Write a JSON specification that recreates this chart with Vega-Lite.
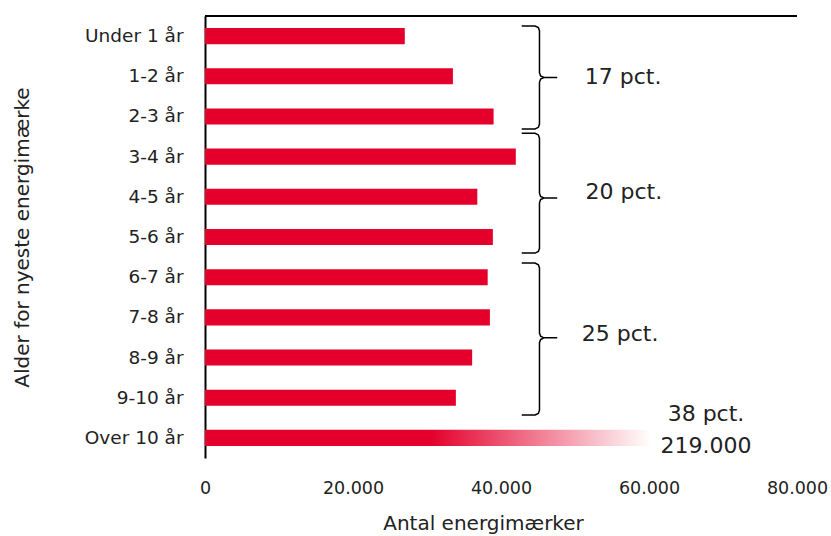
{
  "$schema": "https://vega.github.io/schema/vega-lite/v6.json",
  "width": 592,
  "height": 442,
  "autosize": {"type": "none"},
  "padding": {"left": 205, "top": 16, "right": 34, "bottom": 78},
  "background": "white",
  "config": {
    "view": {"stroke": null},
    "font": "DejaVu Sans",
    "text": {"font": "DejaVu Sans"}
  },
  "datasets": {
    "counts": [
      {"age": "Under 1 år", "count": 27000},
      {"age": "1-2 år", "count": 33500},
      {"age": "2-3 år", "count": 39000},
      {"age": "3-4 år", "count": 42000},
      {"age": "4-5 år", "count": 36800},
      {"age": "5-6 år", "count": 38900},
      {"age": "6-7 år", "count": 38200},
      {"age": "7-8 år", "count": 38500},
      {"age": "8-9 år", "count": 36100},
      {"age": "9-10 år", "count": 33900},
      {"age": "Over 10 år", "count": 219000}
    ],
    "frame": [{"x": 0, "x2": 80000, "pos": 0}],
    "braces": [
      {"g": 1, "i": 1, "x": 42800, "pos": 0.25},
      {"g": 1, "i": 2, "x": 44600, "pos": 0.25},
      {"g": 1, "i": 3, "x": 45050, "pos": 0.29},
      {"g": 1, "i": 4, "x": 45200, "pos": 0.37},
      {"g": 1, "i": 5, "x": 45200, "pos": 1.41},
      {"g": 1, "i": 6, "x": 45350, "pos": 1.49},
      {"g": 1, "i": 7, "x": 45800, "pos": 1.53},
      {"g": 1, "i": 8, "x": 47600, "pos": 1.53},
      {"g": 1, "i": 9, "x": 45800, "pos": 1.53},
      {"g": 1, "i": 10, "x": 45350, "pos": 1.57},
      {"g": 1, "i": 11, "x": 45200, "pos": 1.65},
      {"g": 1, "i": 12, "x": 45200, "pos": 2.69},
      {"g": 1, "i": 13, "x": 45050, "pos": 2.77},
      {"g": 1, "i": 14, "x": 44600, "pos": 2.81},
      {"g": 1, "i": 15, "x": 42800, "pos": 2.81},
      {"g": 2, "i": 1, "x": 42800, "pos": 2.92},
      {"g": 2, "i": 2, "x": 44600, "pos": 2.92},
      {"g": 2, "i": 3, "x": 45050, "pos": 2.96},
      {"g": 2, "i": 4, "x": 45200, "pos": 3.04},
      {"g": 2, "i": 5, "x": 45200, "pos": 4.41},
      {"g": 2, "i": 6, "x": 45350, "pos": 4.49},
      {"g": 2, "i": 7, "x": 45800, "pos": 4.53},
      {"g": 2, "i": 8, "x": 47600, "pos": 4.53},
      {"g": 2, "i": 9, "x": 45800, "pos": 4.53},
      {"g": 2, "i": 10, "x": 45350, "pos": 4.57},
      {"g": 2, "i": 11, "x": 45200, "pos": 4.65},
      {"g": 2, "i": 12, "x": 45200, "pos": 5.78},
      {"g": 2, "i": 13, "x": 45050, "pos": 5.86},
      {"g": 2, "i": 14, "x": 44600, "pos": 5.9},
      {"g": 2, "i": 15, "x": 42800, "pos": 5.9},
      {"g": 3, "i": 1, "x": 42800, "pos": 6.15},
      {"g": 3, "i": 2, "x": 44600, "pos": 6.15},
      {"g": 3, "i": 3, "x": 45050, "pos": 6.19},
      {"g": 3, "i": 4, "x": 45200, "pos": 6.27},
      {"g": 3, "i": 5, "x": 45200, "pos": 7.89},
      {"g": 3, "i": 6, "x": 45350, "pos": 7.97},
      {"g": 3, "i": 7, "x": 45800, "pos": 8.01},
      {"g": 3, "i": 8, "x": 47600, "pos": 8.01},
      {"g": 3, "i": 9, "x": 45800, "pos": 8.01},
      {"g": 3, "i": 10, "x": 45350, "pos": 8.05},
      {"g": 3, "i": 11, "x": 45200, "pos": 8.13},
      {"g": 3, "i": 12, "x": 45200, "pos": 9.81},
      {"g": 3, "i": 13, "x": 45050, "pos": 9.89},
      {"g": 3, "i": 14, "x": 44600, "pos": 9.93},
      {"g": 3, "i": 15, "x": 42800, "pos": 9.93}
    ],
    "notes": [
      {"text": "17 pct.", "x": 56500, "pos": 1.52},
      {"text": "20 pct.", "x": 56600, "pos": 4.38},
      {"text": "25 pct.", "x": 56100, "pos": 7.92},
      {"text": "38 pct.", "x": 67700, "pos": 9.91},
      {"text": "219.000", "x": 67700, "pos": 10.7}
    ]
  },
  "layer": [
    {
      "data": {"name": "counts"},
      "transform": [{"filter": "datum.age !== 'Over 10 år'"}],
      "mark": {"type": "bar", "color": "#E4002B"},
      "encoding": {
        "y": {
          "field": "age",
          "type": "nominal",
          "scale": {
            "domain": ["Under 1 år", "1-2 år", "2-3 år", "3-4 år", "4-5 år", "5-6 år", "6-7 år", "7-8 år", "8-9 år", "9-10 år", "Over 10 år"],
            "paddingInner": 0.6,
            "paddingOuter": 0.3
          },
          "axis": {
            "title": "Alder for nyeste energimærke",
            "ticks": false,
            "domain": true,
            "domainColor": "#000000",
            "domainWidth": 2,
            "labelPadding": 22,
            "labelFontSize": 18.5,
            "labelColor": "#222222",
            "titleFontSize": 20,
            "titleFontWeight": "normal",
            "titleColor": "#222222",
            "titleX": -183,
            "titleY": 221,
            "titleAngle": -90,
            "titleAlign": "center",
            "titleBaseline": "middle"
          }
        },
        "x": {
          "field": "count",
          "type": "quantitative",
          "scale": {"domain": [0, 80000], "nice": false},
          "axis": {
            "title": "Antal energimærker",
            "values": [0, 20000, 40000, 60000, 80000],
            "labelExpr": "replace(format(datum.value, ','), ',', '.')",
            "grid": false,
            "domain": false,
            "ticks": false,
            "labelFlush": false,
            "labelOverlap": false,
            "labelPadding": 21,
            "labelFontSize": 17.5,
            "labelColor": "#222222",
            "titleFontSize": 20,
            "titleFontWeight": "normal",
            "titleColor": "#222222",
            "titleX": 278,
            "titleY": 65,
            "titleAlign": "center",
            "titleBaseline": "middle"
          }
        }
      }
    },
    {
      "data": {"name": "counts"},
      "transform": [{"filter": "datum.age === 'Over 10 år'"}],
      "mark": {
        "type": "bar",
        "clip": true,
        "color": {
          "gradient": "linear",
          "x1": 0, "y1": 0, "x2": 1, "y2": 0,
          "stops": [
            {"offset": 0, "color": "#E4002B"},
            {"offset": 0.139, "color": "#E4002B"},
            {"offset": 0.275, "color": "#ffffff"},
            {"offset": 1, "color": "#ffffff"}
          ]
        }
      },
      "encoding": {
        "y": {
          "field": "age",
          "type": "nominal",
          "scale": {
            "domain": ["Under 1 år", "1-2 år", "2-3 år", "3-4 år", "4-5 år", "5-6 år", "6-7 år", "7-8 år", "8-9 år", "9-10 år", "Over 10 år"],
            "paddingInner": 0.6,
            "paddingOuter": 0.3
          },
          "axis": null
        },
        "x": {"field": "count", "type": "quantitative"}
      }
    },
    {
      "data": {"name": "frame"},
      "mark": {"type": "rule", "color": "#000000", "strokeWidth": 2},
      "encoding": {
        "x": {"field": "x", "type": "quantitative"},
        "x2": {"field": "x2"},
        "y": {"field": "pos", "type": "quantitative", "scale": {"domain": [0, 11], "reverse": true, "nice": false}, "axis": null}
      }
    },
    {
      "data": {"name": "braces"},
      "mark": {"type": "line", "color": "#000000", "strokeWidth": 1.5},
      "encoding": {
        "x": {"field": "x", "type": "quantitative"},
        "y": {"field": "pos", "type": "quantitative", "scale": {"domain": [0, 11], "reverse": true, "nice": false}, "axis": null},
        "detail": {"field": "g", "type": "nominal"},
        "order": {"field": "i", "type": "quantitative"}
      }
    },
    {
      "data": {"name": "notes"},
      "mark": {"type": "text", "fontSize": 22, "color": "#222222", "align": "center", "baseline": "middle"},
      "encoding": {
        "x": {"field": "x", "type": "quantitative"},
        "y": {"field": "pos", "type": "quantitative", "scale": {"domain": [0, 11], "reverse": true, "nice": false}, "axis": null},
        "text": {"field": "text", "type": "nominal"}
      }
    }
  ],
  "resolve": {"scale": {"y": "independent"}, "axis": {"y": "independent"}}
}
